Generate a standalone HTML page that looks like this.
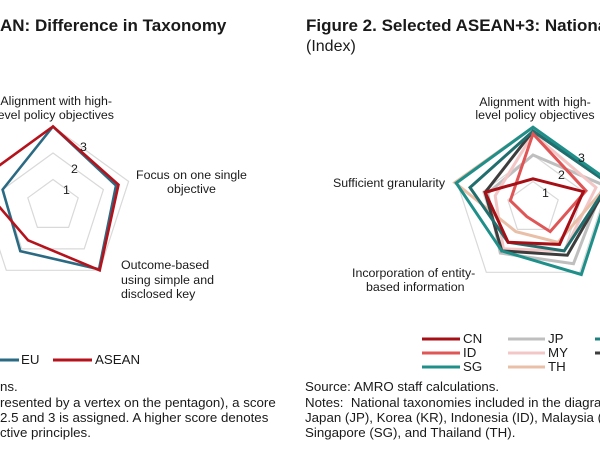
<!DOCTYPE html>
<html><head><meta charset="utf-8"><style>
html,body{margin:0;padding:0;background:#fff;}
body{width:600px;height:461px;position:relative;overflow:hidden;font-family:"Liberation Sans",Arial,sans-serif;color:#1a1a1a;}
.t{position:absolute;white-space:nowrap;line-height:1;}
.ttl{font-weight:bold;font-size:17px;}
.lb{font-size:12.4px;}
.nt{font-size:13.3px;}
svg{position:absolute;left:0;top:0;}
</style></head><body>
<svg width="600" height="461" viewBox="0 0 600 461">
<g fill="none" stroke="#d9d9d9" stroke-width="1.2">
<polygon points="53,179.5 78.2,197.8 68.6,227.4 37.4,227.4 27.8,197.8"/>
<polygon points="53,153 103.4,189.6 84.2,248.9 21.8,248.9 2.6,189.6"/>
<polygon points="53,126.5 128.6,181.4 99.7,270.3 6.3,270.3 -22.6,181.4"/>
<polygon points="533,181.5 558.2,199.8 548.6,229.4 517.4,229.4 507.8,199.8"/>
<polygon points="533,155 583.4,191.6 564.2,250.9 501.8,250.9 482.6,191.6"/>
<polygon points="533,128.5 608.6,183.4 579.7,272.3 486.3,272.3 457.4,183.4"/>
</g>
<g fill="none" stroke-width="2.6" stroke-linejoin="miter">
<polygon stroke="#2b6a83" points="53,126.5 116,185.5 99,269.3 20.3,251.1 2.6,189.6"/>
<polygon stroke="#b5121b" points="53,126.5 118.5,184.7 99.7,270.3 28.1,240.3 -22.6,181.4"/>
</g>
<g fill="none" stroke-width="3" stroke-linejoin="miter">
<polygon stroke="#bfbfbf" points="533,155 603.6,185.1 573.5,263.7 500.3,253.1 487.6,193.3"/>
<polygon stroke="#f4c7c7" points="533,133.8 596,187.5 564.2,250.9 503.4,248.8 495.2,195.7"/>
<polygon stroke="#e9bfa8" points="533,127.2 608.6,183.4 558,242.3 515.8,231.6 454.8,182.6"/>
<polygon stroke="#3d3d3d" points="533,131.1 608.6,183.4 567.3,255.2 501.8,250.9 485.1,192.4"/>
<polygon stroke="#216e6e" points="533,131.1 608.6,183.4 564.2,250.9 508.1,242.3 470,187.5"/>
<polygon stroke="#1f8f8a" points="533,127.2 611.2,182.6 581.3,274.5 501.8,250.9 456.2,183"/>
<polygon stroke="#e05656" points="533,133.8 586,190.8 550.2,231.6 526.8,216.6 510.3,200.6"/>
<polygon stroke="#a50f15" points="533,178.8 583.4,191.6 559.5,244.4 508.1,242.3 485.1,192.4"/>
</g>
<g stroke-width="3">
<line x1="0" y1="360" x2="19" y2="360" stroke="#2b6a83"/>
<line x1="53" y1="360" x2="92" y2="360" stroke="#b5121b"/>
<line x1="422" y1="339" x2="460" y2="339" stroke="#a50f15"/>
<line x1="422" y1="353" x2="460" y2="353" stroke="#e05656"/>
<line x1="422" y1="367" x2="460" y2="367" stroke="#1f8f8a"/>
<line x1="508" y1="339" x2="545" y2="339" stroke="#bfbfbf"/>
<line x1="508" y1="353" x2="545" y2="353" stroke="#f4c7c7"/>
<line x1="508" y1="367" x2="545" y2="367" stroke="#e9bfa8"/>
<line x1="595" y1="339" x2="600" y2="339" stroke="#1f8080"/>
<line x1="595" y1="353" x2="600" y2="353" stroke="#3d3d3d"/>
</g>
</svg>
<div class="t ttl" style="left:0;top:17px;">AN: Difference in Taxonomy</div>
<div class="t ttl" style="left:306px;top:17px;">Figure 2. Selected ASEAN+3: National</div>
<div class="t" style="left:306px;top:39px;font-size:16px;">(Index)</div>

<div class="t lb" style="left:-10px;top:95px;width:122px;text-align:right;">Alignment with high-</div>
<div class="t lb" style="left:-10px;top:109px;width:124px;text-align:right;">evel policy objectives</div>
<div class="t lb" style="left:136px;top:169px;">Focus on one single</div>
<div class="t lb" style="left:136px;top:183px;width:111px;text-align:center;">objective</div>
<div class="t lb" style="left:121px;top:259px;">Outcome-based</div>
<div class="t lb" style="left:121px;top:274px;">using simple and</div>
<div class="t lb" style="left:121px;top:288px;">disclosed key</div>
<div class="t lb" style="left:-4px;top:266px;">-</div>
<div class="t lb" style="left:80px;top:141px;">3</div>
<div class="t lb" style="left:71px;top:163px;">2</div>
<div class="t lb" style="left:63px;top:184px;">1</div>

<div class="t lb" style="left:470px;top:96px;width:130px;text-align:center;">Alignment with high-</div>
<div class="t lb" style="left:468px;top:109px;width:134px;text-align:center;">level policy objectives</div>
<div class="t lb" style="left:333px;top:177px;">Sufficient granularity</div>
<div class="t lb" style="left:352px;top:267px;">Incorporation of entity-</div>
<div class="t lb" style="left:366px;top:281px;">based information</div>
<div class="t lb" style="left:578px;top:152px;">3</div>
<div class="t lb" style="left:558px;top:169px;">2</div>
<div class="t lb" style="left:542px;top:187px;">1</div>

<div class="t nt" style="left:21px;top:353px;">EU</div>
<div class="t nt" style="left:95px;top:353px;">ASEAN</div>
<div class="t nt" style="left:463px;top:332px;">CN</div>
<div class="t nt" style="left:463px;top:346px;">ID</div>
<div class="t nt" style="left:463px;top:360px;">SG</div>
<div class="t nt" style="left:548px;top:332px;">JP</div>
<div class="t nt" style="left:548px;top:346px;">MY</div>
<div class="t nt" style="left:548px;top:360px;">TH</div>

<div class="t nt" style="left:0;top:380px;">ns.</div>
<div class="t nt" style="left:0;top:396px;">resented by a vertex on the pentagon), a score</div>
<div class="t nt" style="left:0;top:411px;">2.5 and 3 is assigned. A higher score denotes</div>
<div class="t nt" style="left:0;top:426px;">ctive principles.</div>

<div class="t nt" style="left:305px;top:380px;">Source: AMRO staff calculations.</div>
<div class="t nt" style="left:305px;top:396px;">Notes:&nbsp; National taxonomies included in the diagram</div>
<div class="t nt" style="left:305px;top:411px;">Japan (JP), Korea (KR), Indonesia (ID), Malaysia (MY),</div>
<div class="t nt" style="left:305px;top:426px;">Singapore (SG), and Thailand (TH).</div>
</body></html>
